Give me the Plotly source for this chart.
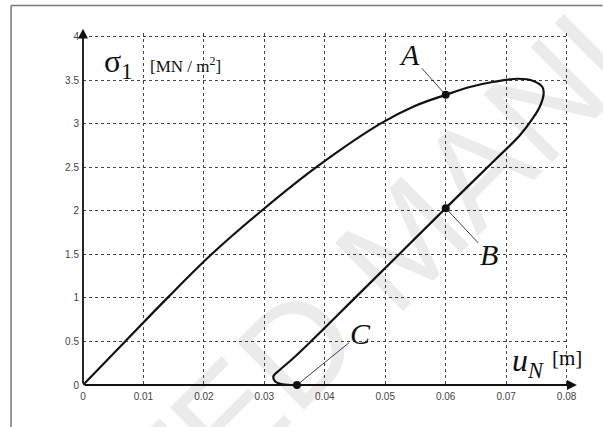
import plotly.graph_objects as go

# Data
u_curve = [0, 0.00697, 0.01397, 0.02127, 0.02955, 0.0386, 0.0492, 0.0548, 0.060, 0.064,
           0.068, 0.0720, 0.0745, 0.0760, 0.0762, 0.0756, 0.0744, 0.0722, 0.0684, 0.060,
           0.0523, 0.0450, 0.0377, 0.0345, 0.0325, 0.0315, 0.0318, 0.0330, 0.0354]
s_curve = [0, 0.5, 1.0, 1.5, 2.0, 2.5, 3.0, 3.2, 3.33, 3.42,
           3.48, 3.515, 3.49, 3.42, 3.34, 3.2, 3.06, 2.86, 2.6, 2.03,
           1.5, 1.0, 0.5, 0.29, 0.17, 0.10, 0.04, 0.008, 0.0]

pt_names = ["A", "B", "C"]
pt_u = [0.060, 0.060, 0.0354]
pt_s = [3.33, 2.03, 0.0]
pt_text_dx = [-36, 43, 64]
pt_text_dy = [-40, 46, -52]

x_ticks = [0, 0.01, 0.02, 0.03, 0.04, 0.05, 0.06, 0.07, 0.08]
x_tick_text = ["0", "0.01", "0.02", "0.03", "0.04", "0.05", "0.06", "0.07", "0.08"]
y_ticks = [0, 0.5, 1, 1.5, 2, 2.5, 3, 3.5, 4]
y_tick_text = ["0", "0.5", "1", "1.5", "2", "2.5", "3", "3.5", "4"]

W, H = 603, 427
X_MAX, Y_MAX = 0.0804, 4.04
# pixel positions of x=0 / 0.08 and y=0 / 4 in the reference
X0PX, X8PX, Y0PX, Y4PX = 83, 567, 385, 36
L = X0PX
pw = (X8PX - X0PX) * X_MAX / 0.08
R = W - L - pw
B = H - Y0PX
ph = (Y0PX - Y4PX) * Y_MAX / 4.0
T = H - B - ph

def px2paper(px, py):
    return (px - L) / pw, (H - B - py) / ph

fig = go.Figure()

fig.add_trace(go.Scatter(x=u_curve, y=s_curve, mode="lines",
                         line=dict(color="#111", width=2.2, shape="spline", smoothing=1.0),
                         cliponaxis=False, hoverinfo="skip", showlegend=False))
fig.add_trace(go.Scatter(x=pt_u, y=pt_s, mode="markers",
                         marker=dict(color="#111", size=8),
                         cliponaxis=False, showlegend=False))

annotations = []
# watermark
wx, wy = px2paper(405, 240)
annotations.append(dict(xref="paper", yref="paper", x=wx, y=wy, text="ACCEPTED MANUSCRIPT",
                        showarrow=False, textangle=-45,
                        font=dict(family="Liberation Sans", size=140, color="rgba(0,0,0,0.08)")))

for name, u, s, dx, dy in zip(pt_names, pt_u, pt_s, pt_text_dx, pt_text_dy):
    annotations.append(dict(x=u, y=s, xref="x", yref="y", text=f"<i>{name}</i>",
                            showarrow=True, arrowhead=0, arrowwidth=0.8, arrowcolor="#111",
                            ax=dx, ay=dy, standoff=0,
                            font=dict(family="Liberation Serif", size=30, color="#111")))

# axis arrows
annotations.append(dict(x=0, y=4.09, ax=0, ay=0, xref="x", yref="y", axref="x", ayref="y",
                        text="", showarrow=True, arrowhead=2, arrowsize=1.1, arrowwidth=1.8,
                        arrowcolor="#111"))
annotations.append(dict(x=0.0817, y=0, ax=0, ay=0, xref="x", yref="y", axref="x", ayref="y",
                        text="", showarrow=True, arrowhead=2, arrowsize=1.1, arrowwidth=1.8,
                        arrowcolor="#111"))

# axis titles
sx, sy = px2paper(102, 63)
annotations.append(dict(xref="paper", yref="paper", x=sx, y=sy, xanchor="left", yanchor="middle",
                        text="σ<sub>1</sub>", showarrow=False,
                        font=dict(family="Liberation Serif", size=32, color="#111")))
mx, my = px2paper(148, 65)
annotations.append(dict(xref="paper", yref="paper", x=mx, y=my, xanchor="left", yanchor="middle",
                        text="[MN / m<sup>2</sup>]", showarrow=False,
                        font=dict(family="Liberation Serif", size=17, color="#111")))
ux, uy = px2paper(510, 362)
annotations.append(dict(xref="paper", yref="paper", x=ux, y=uy, xanchor="left", yanchor="middle",
                        text="<i>u</i><sub><i>N</i></sub>", showarrow=False,
                        font=dict(family="Liberation Serif", size=32, color="#111")))
bx, by = px2paper(550, 358)
annotations.append(dict(xref="paper", yref="paper", x=bx, y=by, xanchor="left", yanchor="middle",
                        text="[m]", showarrow=False,
                        font=dict(family="Liberation Serif", size=21, color="#111")))

fx0, fy0 = px2paper(11, 427)
fx1, fy1 = px2paper(603, 5)
shapes = [
    dict(type="line", xref="paper", yref="paper", x0=fx0, x1=fx0, y0=fy0, y1=fy1,
         line=dict(color="#777", width=1.5)),
    dict(type="line", xref="paper", yref="paper", x0=fx0, x1=fx1, y0=fy1, y1=fy1,
         line=dict(color="#777", width=1.5)),
]

fig.update_layout(
    width=W, height=H, margin=dict(l=L, r=R, t=T, b=B, pad=0),
    paper_bgcolor="white", plot_bgcolor="white",
    annotations=annotations, shapes=shapes,
    xaxis=dict(range=[0, X_MAX], tickvals=x_ticks, ticktext=x_tick_text,
               showgrid=True, gridcolor="#444", griddash="dot", gridwidth=1,
               zeroline=False, showline=False, ticks="", ticklabelstandoff=4,
               tickfont=dict(family="Liberation Sans", size=10, color="#444")),
    yaxis=dict(range=[0, Y_MAX], tickvals=y_ticks, ticktext=y_tick_text,
               showgrid=True, gridcolor="#444", griddash="dot", gridwidth=1,
               zeroline=False, showline=False, ticks="", ticklabelstandoff=3,
               tickfont=dict(family="Liberation Sans", size=10, color="#444")),
)

fig.write_html("out.html")
